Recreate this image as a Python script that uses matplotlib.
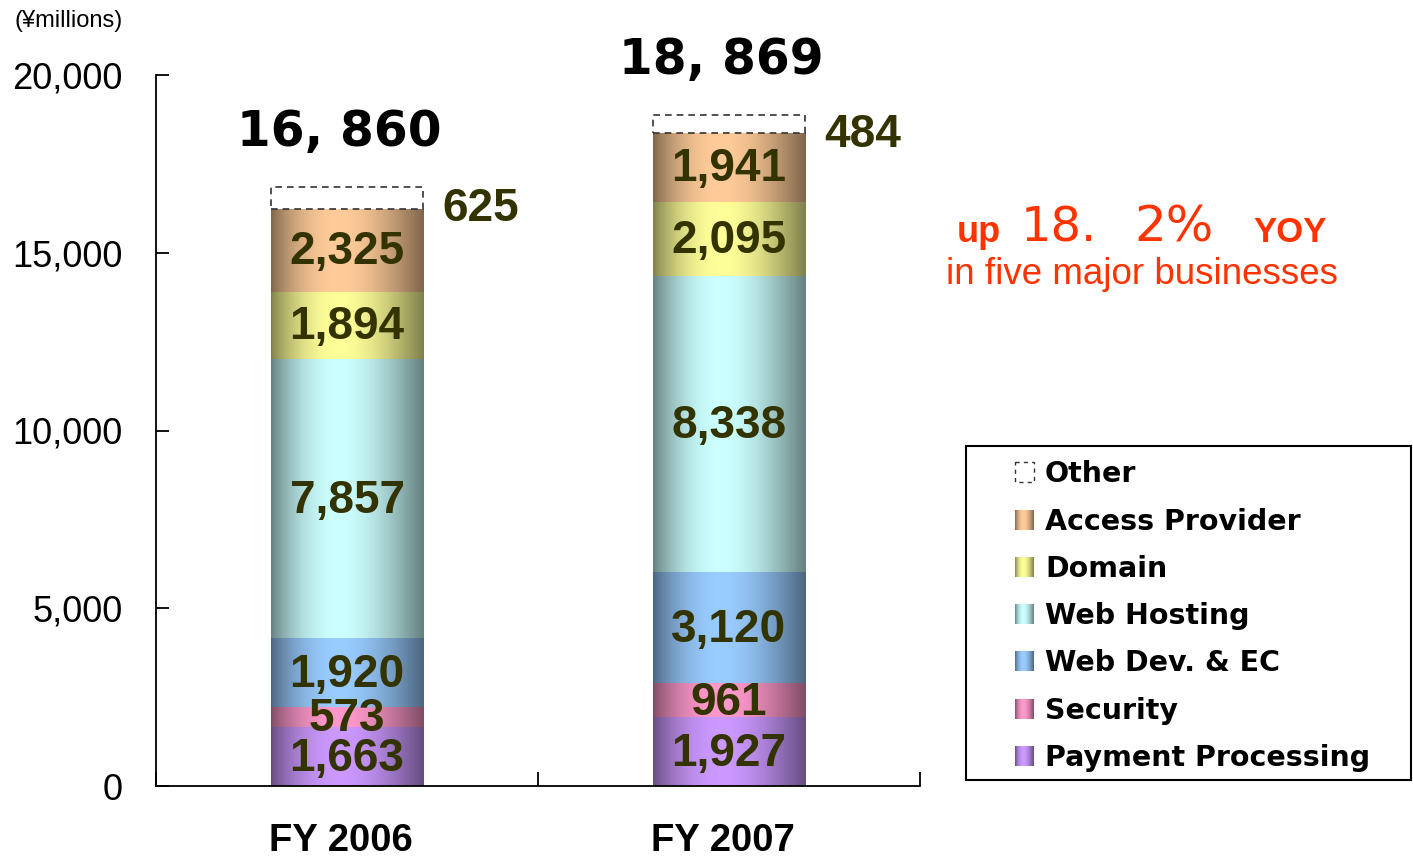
import numpy as np
import matplotlib
matplotlib.use("Agg")
import matplotlib.pyplot as plt
from matplotlib.patches import Rectangle

# ---------------- data ----------------
years = ["FY 2006", "FY 2007"]
series = ["Payment Processing", "Security", "Web Dev. & EC", "Web Hosting",
          "Domain", "Access Provider", "Other"]
payment = [1663, 1927]
security = [573, 961]
webdev = [1920, 3120]
hosting = [7857, 8338]
domain = [1894, 2095]
access = [2325, 1941]
other = [625, 484]
totals_text = ["16, 860", "18, 869"]
yticks = [0, 5000, 10000, 15000, 20000]

values = [payment, security, webdev, hosting, domain, access, other]

# ---------------- style ----------------
light = {
    "Payment Processing": "#CC99FF",
    "Security": "#FF99CC",
    "Web Dev. & EC": "#99CCFF",
    "Web Hosting": "#CCFFFF",
    "Domain": "#FFFF99",
    "Access Provider": "#FFCC99",
}
LABEL_C = "#333300"
W, H = 1413, 858
fig = plt.figure(figsize=(W / 100, H / 100), dpi=100)
ax = fig.add_axes([156 / W, 1 - 786 / H, (920 - 156) / W, (786 - 75) / H])


def grad_img(hexcol, n=200):
    rgb = np.array(matplotlib.colors.to_rgb(hexcol))
    t = np.linspace(0, 1, n)
    f = 0.5 + 0.5 * np.sin(np.pi * t ** 0.85)
    img = f[:, None] * rgb[None, :]
    return img[None, :, :]


x = np.arange(len(years))
bottom = np.zeros(len(years))
bw = 0.4
for name, vals in zip(series, values):
    vals = np.array(vals, dtype=float)
    if name == "Other":
        bars = ax.bar(x, vals, bw, bottom=bottom, facecolor="white",
                      edgecolor="#333333", linestyle=(0, (4, 3)), linewidth=1.2, zorder=3)
        for r, v in zip(bars, vals):
            ax.text(r.get_x() + r.get_width() + 0.05, r.get_y() + r.get_height() / 2 - 320,
                    f"{int(v):,}", ha="left", va="center", fontsize=33, fontweight="bold",
                    color=LABEL_C, family="Liberation Sans", zorder=5)
    else:
        bars = ax.bar(x, vals, bw, bottom=bottom, facecolor="none",
                      edgecolor="none", zorder=3)
        for r, v in zip(bars, vals):
            x0, y0 = r.get_x(), r.get_y()
            ax.imshow(grad_img(light[name]), extent=(x0, x0 + r.get_width(), y0, y0 + r.get_height()),
                      aspect="auto", zorder=2, interpolation="bilinear")
            ax.text(x0 + r.get_width() / 2, y0 + r.get_height() / 2 - 60, f"{int(v):,}",
                    ha="center", va="center", fontsize=33, fontweight="bold",
                    color=LABEL_C, family="Liberation Sans", zorder=5)
    bottom = bottom + vals

# totals
for xi, tot, txt in zip(x, bottom, totals_text):
    ax.text(xi - 0.02, tot + 1550, txt, ha="center", va="center", fontsize=35,
            fontweight="bold", color="black", family="DejaVu Sans")

ax.set_xlim(-0.5, 1.5)
ax.set_ylim(0, 20000)
ax.spines["top"].set_visible(False)
ax.spines["right"].set_visible(False)
for s in ("left", "bottom"):
    ax.spines[s].set_linewidth(1.3)
ax.set_yticks(yticks)
ax.set_yticklabels([f"{v:,}" for v in yticks], fontsize=26, family="Liberation Sans")
ax.tick_params(axis="y", direction="in", length=9, width=1.3, pad=24)
ax.set_xticks([-0.5, 0.5, 1.5])
ax.set_xticklabels(["", "", ""])
ax.tick_params(axis="x", which="major", direction="in", length=10, width=1.3)
ax.set_xticks(x - 0.015, minor=True)
ax.set_xticklabels(years, minor=True, fontsize=27.5, fontweight="bold", family="Liberation Sans")
ax.tick_params(axis="x", which="minor", length=0, pad=26.5)

fig.text(14 / W, 1 - 21 / H, "(¥millions)", fontsize=17, family="Liberation Sans",
         ha="left", va="center")

# annotation
RED = "#FF3300"
BASE = 1 - 242 / H
fig.text(957 / W, BASE, "up", fontsize=26, fontweight="bold", color=RED,
         family="Liberation Sans", ha="left", va="baseline")
fig.text(1021 / W, BASE, "18.", fontsize=34.5, color=RED,
         family="DejaVu Sans", ha="left", va="baseline")
fig.text(1134 / W, BASE, "2%", fontsize=36, color=RED,
         family="DejaVu Sans", ha="left", va="baseline")
fig.text(1327 / W, BASE, "YOY", fontsize=25, fontweight="bold", color=RED,
         family="Liberation Sans", ha="right", va="baseline")
fig.text(1142 / W, 1 - 274 / H, "in five major businesses", fontsize=26.5, color=RED,
         family="Liberation Sans", ha="center", va="center")

# legend (custom, pixel coords)
lx0, lx1, ly0, ly1 = 966, 1411, 446, 780
lax = fig.add_axes([lx0 / W, 1 - ly1 / H, (lx1 - lx0) / W, (ly1 - ly0) / H])
lax.set_xticks([])
lax.set_yticks([])
for s in lax.spines.values():
    s.set_linewidth(1.5)
row_y = [472, 520, 567, 614, 661, 709, 756]
legend_order = series[::-1]
for yy, name in zip(row_y, legend_order):
    sx0, sx1 = 1015, 1034
    if name == "Other":
        lax.add_patch(Rectangle((sx0, yy - 10), sx1 - sx0, 20, facecolor="white",
                                edgecolor="#333333", linestyle=(0, (3, 3)), linewidth=1))
    else:
        lax.imshow(grad_img(light[name]), extent=(sx0, sx1, yy + 10, yy - 10),
                   aspect="auto", interpolation="bilinear")
    lax.text(1045, yy + 2, name, fontsize=20.5, fontweight="bold", family="DejaVu Sans",
             ha="left", va="center")
lax.set_xlim(lx0, lx1)
lax.set_ylim(ly1, ly0)

fig.savefig("out.png", dpi=100)
